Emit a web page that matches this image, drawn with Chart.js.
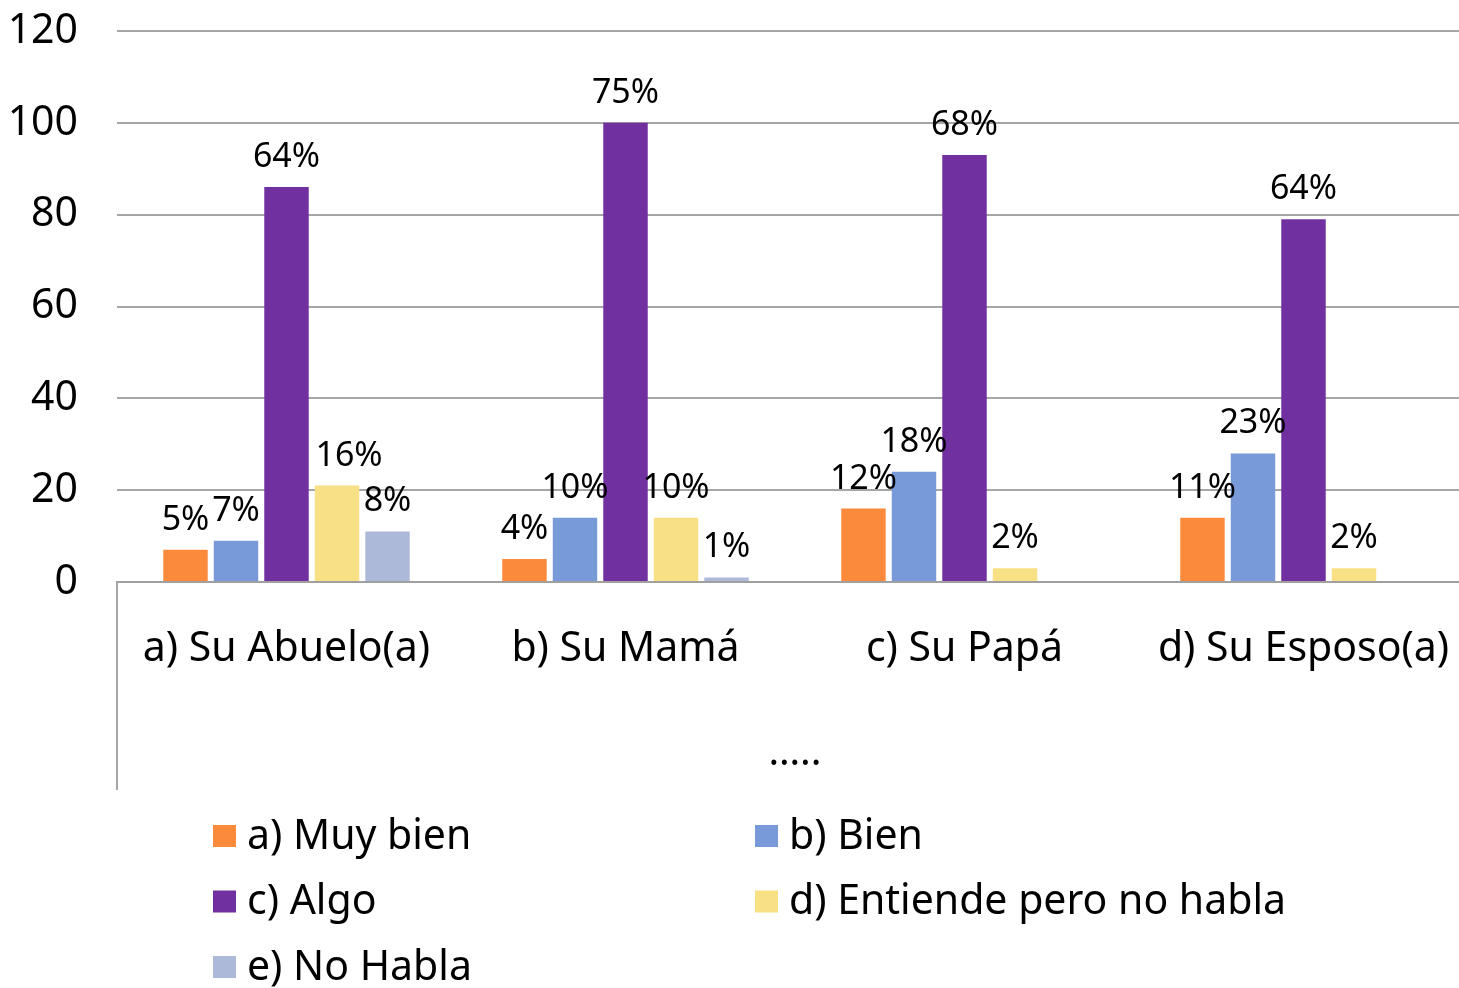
<!DOCTYPE html>
<html lang="es">
<head>
<meta charset="utf-8">
<title>Habla la lengua</title>
<script src="https://cdn.jsdelivr.net/npm/chart.js@4/dist/chart.umd.min.js"></script>
<style>
  html, body { margin: 0; padding: 0; background: #fff; overflow: hidden; }
  /* el área de trazado sigue un poco más allá del borde derecho visible */
  #wrap { width: 1459px; height: 988px; overflow: hidden; }
</style>
</head>
<body>
<div id="wrap"><canvas id="chart" width="1473" height="988"></canvas></div>
<script>
// Categorías y series
const categories = ["a) Su Abuelo(a)", "b) Su Mamá", "c) Su Papá", "d) Su Esposo(a)"];
const seriesNames = ["a) Muy bien", "b) Bien", "c) Algo", "d) Entiende pero no habla", "e) No Habla"];

// Conteos por categoría (altura de las barras)
const muyBien = [7, 5, 16, 14];
const bien = [9, 14, 24, 28];
const algo = [86, 100, 93, 79];
const entiende = [21, 14, 3, 3];
const noHabla = [11, 1, 0, 0];

// Porcentajes mostrados sobre cada barra
const muyBienPct = ["5%", "4%", "12%", "11%"];
const bienPct = ["7%", "10%", "18%", "23%"];
const algoPct = ["64%", "75%", "68%", "64%"];
const entiendePct = ["16%", "10%", "2%", "2%"];
const noHablaPct = ["8%", "1%", null, null];

// Eje Y
const yMax = 120;
const yStep = 20;

const colors = ["#FC8A3B", "#789AD8", "#7030A0", "#F8E084", "#ADB9D8"];
const FONT = "'Noto Sans', 'DejaVu Sans', sans-serif";

const values = [muyBien, bien, algo, entiende, noHabla];
const pctLabels = [muyBienPct, bienPct, algoPct, entiendePct, noHablaPct];

// Etiquetas de porcentaje encima de las barras
const barLabels = {
  id: "barLabels",
  afterDatasetsDraw(chart, args, opts) {
    const ctx = chart.ctx;
    ctx.save();
    ctx.font = "34px " + FONT;
    ctx.fillStyle = "#000";
    ctx.textAlign = "center";
    ctx.textBaseline = "alphabetic";
    chart.data.datasets.forEach((ds, di) => {
      const meta = chart.getDatasetMeta(di);
      meta.data.forEach((bar, i) => {
        const txt = ds.pctLabels[i];
        if (!txt) return;
        const dx = (opts.nudge && opts.nudge[di + "-" + i]) || 0;
        ctx.fillText(txt, bar.x + dx, bar.y - 20);
      });
    });
    ctx.restore();
  },
};

// Línea vertical del eje de categorías (bajo el área del gráfico)
const categoryDivider = {
  id: "categoryDivider",
  afterDraw(chart) {
    const ctx = chart.ctx;
    const x = chart.scales.x;
    ctx.save();
    ctx.strokeStyle = "#A6A6A6";
    ctx.lineWidth = 2;
    ctx.beginPath();
    ctx.moveTo(chart.chartArea.left, x.top);
    ctx.lineTo(chart.chartArea.left, x.bottom);
    ctx.stroke();
    ctx.restore();
  },
};

// Leyenda en dos columnas debajo del gráfico
const gridLegend = {
  id: "gridLegend",
  afterDraw(chart, args, opts) {
    const ctx = chart.ctx;
    ctx.save();
    ctx.font = "41px " + FONT;
    ctx.textBaseline = "middle";
    ctx.textAlign = "left";
    chart.data.datasets.forEach((ds, i) => {
      const col = i % 2;
      const row = Math.floor(i / 2);
      const x = opts.columns[col];
      const y = opts.top + row * opts.rowHeight;
      ctx.fillStyle = ds.backgroundColor;
      ctx.fillRect(x, y - 11, 23, 22);
      ctx.fillStyle = "#000";
      ctx.fillText(ds.label, x + 34, y + 1);
    });
    ctx.restore();
  },
};

const datasets = seriesNames.map((name, i) => ({
  label: name,
  data: values[i],
  pctLabels: pctLabels[i],
  backgroundColor: colors[i],
  borderWidth: 0,
  categoryPercentage: 0.745,
  barPercentage: 0.88,
}));

new Chart(document.getElementById("chart"), {
  type: "bar",
  data: { labels: categories, datasets: datasets },
  options: {
    responsive: false,
    animation: false,
    layout: { padding: { top: 31, right: 0, bottom: 198, left: 0 } },
    plugins: {
      legend: { display: false },
      tooltip: { enabled: false },
      barLabels: { nudge: { "3-0": 12 } },
      gridLegend: { columns: [213, 755], top: 836, rowHeight: 65.5 },
    },
    scales: {
      x: {
        // marcas invisibles: separan las etiquetas del eje sin sumar relleno lateral
        grid: { display: true, drawOnChartArea: false, drawTicks: true, tickLength: 43, color: "transparent" },
        border: { display: true, color: "#A0A0A0", width: 2 },
        ticks: { color: "#000", font: { family: FONT, size: 41 }, padding: 0, maxRotation: 0, autoSkip: false },
        title: { display: true, text: "…..", color: "#000", font: { family: FONT, size: 40 }, padding: { top: 0, bottom: 12 } },
        afterFit(scale) { scale.height = 208; },
      },
      y: {
        min: 0,
        max: yMax,
        ticks: { stepSize: yStep, color: "#000", font: { family: FONT, size: 41 }, padding: 0 },
        grid: { color: "#A6A6A6", lineWidth: 2, drawTicks: true, tickLength: 39, tickColor: "transparent" },
        border: { display: false },
        afterFit(scale) { scale.width = 117; },
      },
    },
  },
  plugins: [barLabels, categoryDivider, gridLegend],
});
</script>
</body>
</html>
